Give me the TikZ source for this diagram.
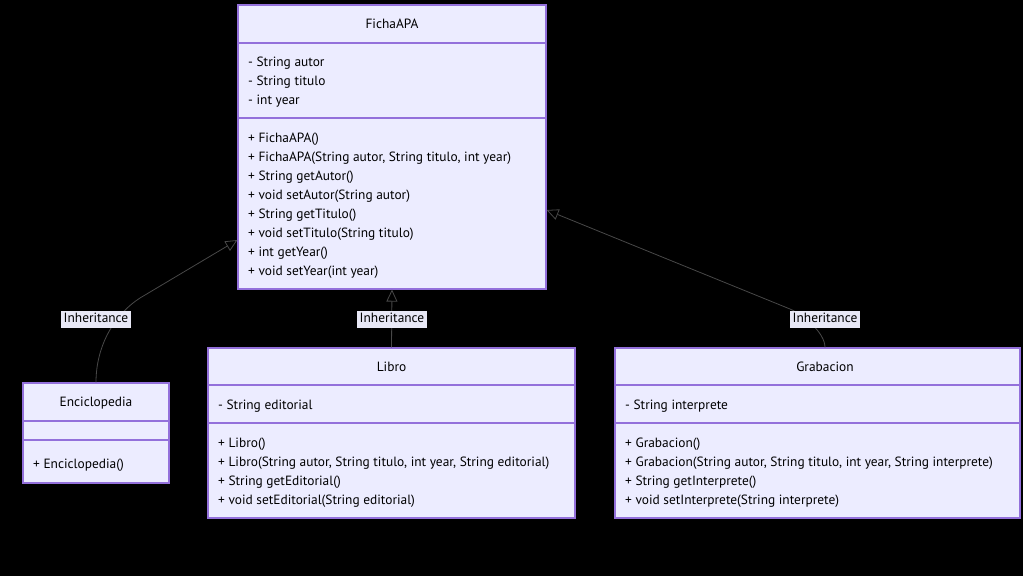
\documentclass[tikz,border=0pt]{standalone}
\usepackage{fontspec}
\setmainfont{PT Sans}
\usetikzlibrary{arrows.meta}

\definecolor{boxfill}{HTML}{ECECFF}
\definecolor{boxline}{HTML}{9370DB}
\definecolor{edgecol}{HTML}{484848}
\definecolor{lblfill}{HTML}{E8E8F6}

\begin{document}
\begin{tikzpicture}[x=1pt,y=-1pt,
    classbox/.style={draw=boxline, fill=boxfill, line width=1.1pt, inner sep=0pt},
    divider/.style={draw=boxline, line width=1.1pt},
    classname/.style={font=\fontsize{13.4}{15}\selectfont, text height=9.4pt, text depth=0pt, inner sep=0pt, yshift=-1pt},
    member/.style={classname, anchor=west},
    inherit/.style={draw=edgecol, line width=0.8pt, -{Triangle[open, length=12pt, width=11pt]}},
    edgelbl/.style={fill=lblfill, font=\fontsize{13.4}{15}\selectfont, text height=9.4pt, text depth=3pt, inner sep=2.5pt, yshift=-1.5pt}]

    % background and frame
    \fill[black] (0,0) rectangle (1023,576);

    % FichaAPA
    \node[classbox, minimum width=308pt, minimum height=284pt] (ficha) at (392,147) {};
    \draw[divider] (ficha.west |- 0,43) -- (ficha.east |- 0,43);
    \draw[divider] (ficha.west |- 0,118) -- (ficha.east |- 0,118);
    \node[classname] (ficha-name) at (392,23) {FichaAPA};
    \foreach \t [count=\i] in {- String autor, - String titulo, - int year}
        \node[member] (ficha-a\i) at (248,42+19*\i) {\t};
    \foreach \t [count=\i] in {+ FichaAPA(), {+ FichaAPA(String autor, String titulo, int year)},
        + String getAutor(), + void setAutor(String autor), + String getTitulo(),
        + void setTitulo(String titulo), + int getYear(), + void setYear(int year)}
        \node[member] (ficha-m\i) at (248,118+19*\i) {\t};

    % Enciclopedia
    \node[classbox, minimum width=146pt, minimum height=100pt] (enc) at (96,433) {};
    \draw[divider] (enc.west |- 0,421) -- (enc.east |- 0,421);
    \draw[divider] (enc.west |- 0,440) -- (enc.east |- 0,440);
    \node[classname] (enc-name) at (96,401) {Enciclopedia};
    \node[member] (enc-m1) at (33,463) {+ Enciclopedia()};

    % Libro
    \node[classbox, minimum width=367pt, minimum height=170pt] (libro) at (391.5,433) {};
    \draw[divider] (libro.west |- 0,385) -- (libro.east |- 0,385);
    \draw[divider] (libro.west |- 0,423) -- (libro.east |- 0,423);
    \node[classname] (libro-name) at (391.5,366) {Libro};
    \node[member] (libro-a1) at (218,404) {- String editorial};
    \foreach \t [count=\i] in {+ Libro(), {+ Libro(String autor, String titulo, int year, String editorial)},
        + String getEditorial(), + void setEditorial(String editorial)}
        \node[member] (libro-m\i) at (218,423+19*\i) {\t};

    % Grabacion
    \node[classbox, minimum width=405pt, minimum height=170pt] (grab) at (817.5,433) {};
    \draw[divider] (grab.west |- 0,385) -- (grab.east |- 0,385);
    \draw[divider] (grab.west |- 0,423) -- (grab.east |- 0,423);
    \node[classname] (grab-name) at (825,366) {Grabacion};
    \node[member] (grab-a1) at (625,404) {- String interprete};
    \foreach \t [count=\i] in {+ Grabacion(), {+ Grabacion(String autor, String titulo, int year, String interprete)},
        + String getInterprete(), + void setInterprete(String interprete)}
        \node[member] (grab-m\i) at (625,423+19*\i) {\t};

    % inheritance arrows
    \draw[inherit] (enc.north) .. controls (96,345) and (115,314) .. (140,298) -- ([yshift=-93pt]ficha.west);
    \draw[inherit] (libro.north) -- (ficha.south);
    \draw[inherit] ([xshift=7.5pt]grab.north) .. controls (825,333) and (804,315) .. (790,309) -- ([yshift=-63pt]ficha.east);
    \node[edgelbl] (lbl-enc) at (96,318) {Inheritance};
    \node[edgelbl] (lbl-libro) at (392,318) {Inheritance};
    \node[edgelbl] (lbl-grab) at (825,318) {Inheritance};

\end{tikzpicture}
\end{document}
